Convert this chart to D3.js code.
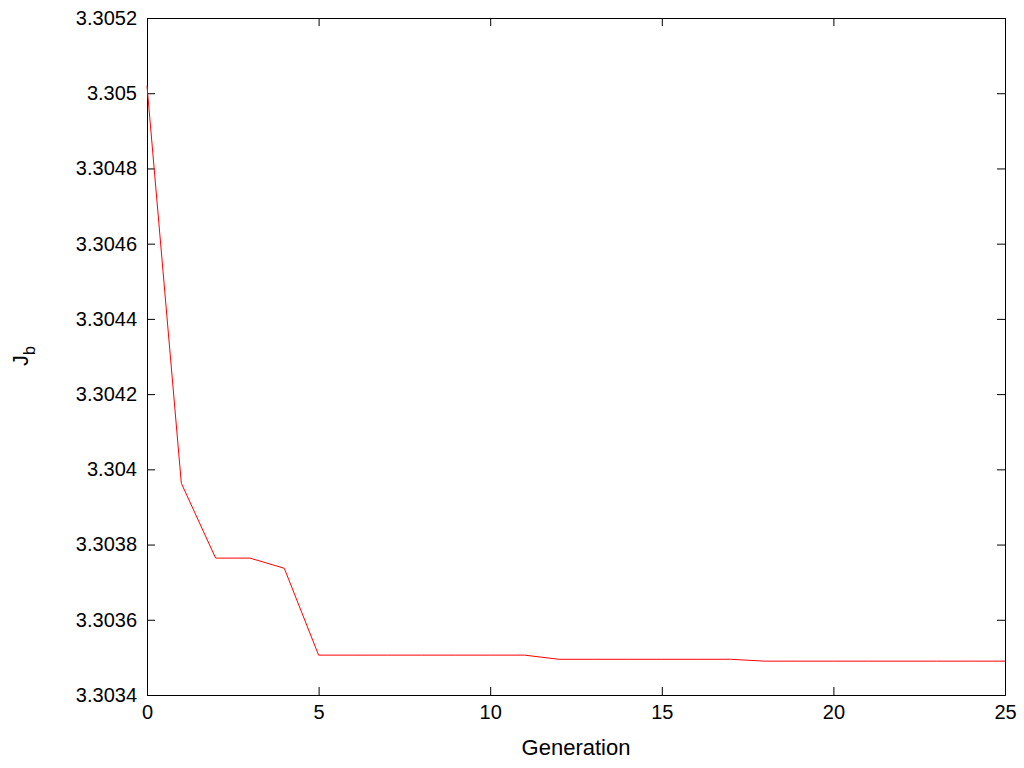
<!DOCTYPE html><html><head><script src="https://cdn.jsdelivr.net/npm/d3@7"></script>
<style>body{margin:0;background:#fff}text{font-family:"Liberation Sans",Arial,sans-serif}</style></head><body>
<svg width="1024" height="768"></svg>
<script>
const generations=[0,1,2,3,4,5,6,7,8,9,10,11,12,13,14,15,16,17,18,19,20,21,22,23,24,25];
const jb=[3.30502,3.303963,3.303764,3.303764,3.303737,3.303506,3.303506,3.303506,3.303506,3.303506,3.303506,3.303506,3.303495,3.303495,3.303495,3.303495,3.303495,3.303495,3.30349,3.30349,3.30349,3.30349,3.30349,3.30349,3.30349,3.30349];
const yTicks=[3.3034,3.3036,3.3038,3.304,3.3042,3.3044,3.3046,3.3048,3.305,3.3052];
const xTicks=[0,5,10,15,20,25];
const L=147,R=1005,T=18,B=695;
const svg=d3.select("svg");
const x=d3.scaleLinear().domain([0,25]).range([L,R]);
const y=d3.scaleLinear().domain([3.3034,3.3052]).range([B,T]);
const fmt=d=>String(+d.toFixed(4));
svg.append("g").attr("transform",`translate(0,${B})`).call(d3.axisBottom(x).tickValues(xTicks).tickSize(-8).tickPadding(10).tickFormat(d=>d));
svg.append("g").attr("transform",`translate(0,${T})`).call(d3.axisTop(x).tickValues(xTicks).tickSize(-8).tickFormat(""));
svg.append("g").attr("transform",`translate(${L},0)`).call(d3.axisLeft(y).tickValues(yTicks).tickSize(-8).tickPadding(10).tickFormat(fmt));
svg.append("g").attr("transform",`translate(${R},0)`).call(d3.axisRight(y).tickValues(yTicks).tickSize(-8).tickFormat(""));
svg.selectAll(".domain").attr("stroke","#000");
svg.selectAll(".tick text").attr("font-size",20).attr("fill","#000").attr("font-family","Liberation Sans, Arial, sans-serif");
svg.append("path").datum(generations.map((g,i)=>[g,jb[i]])).attr("fill","none").attr("stroke","#ff0000").attr("stroke-width",1)
 .attr("d",d3.line().x(d=>x(d[0])).y(d=>y(d[1])));
svg.append("text").attr("x",(L+R)/2).attr("y",755).attr("text-anchor","middle").attr("font-size",22).text("Generation");
const yl=svg.append("text").attr("transform","translate(28,356) rotate(-90)").attr("text-anchor","middle").attr("font-size",22);
yl.append("tspan").text("J");yl.append("tspan").attr("font-size",16).attr("dy",7).text("b");
</script></body></html>
